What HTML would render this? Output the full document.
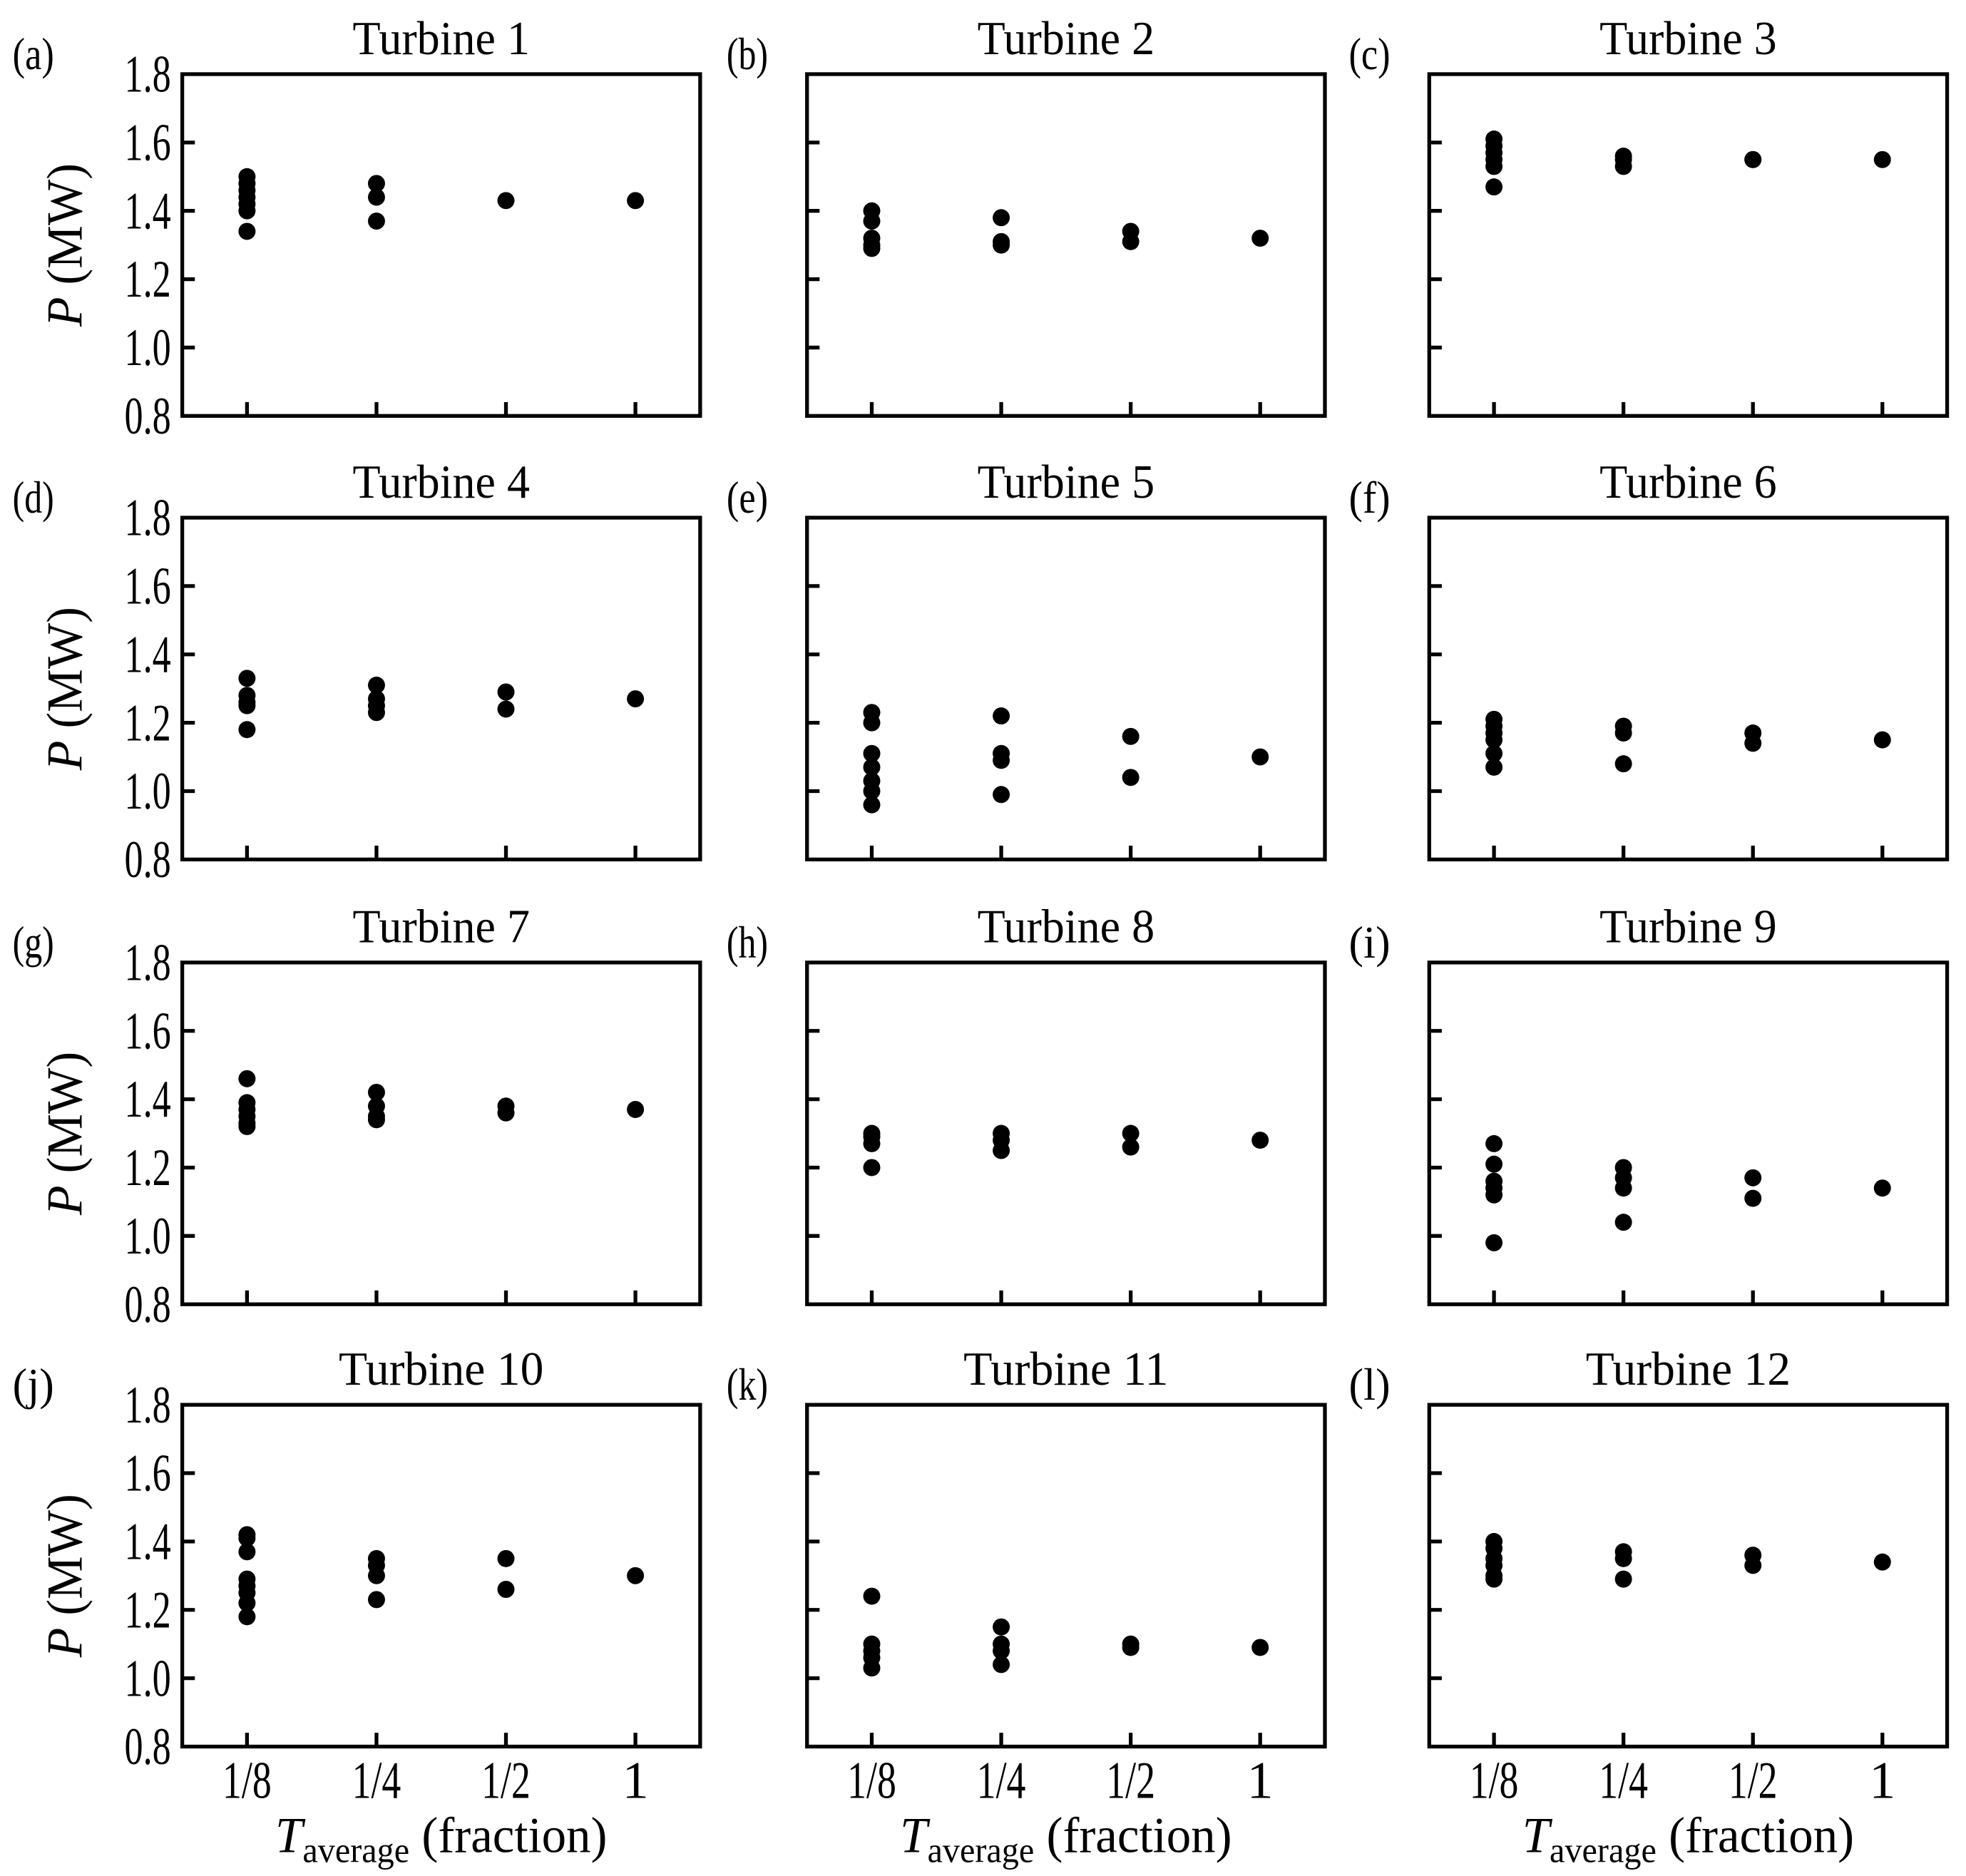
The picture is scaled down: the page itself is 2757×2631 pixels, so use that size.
<!DOCTYPE html>
<html><head><meta charset="utf-8"><style>html,body{margin:0;padding:0;background:#fff}svg{display:block}</style></head>
<body>
<svg id="fig" width="2757" height="2631" viewBox="0 0 1564 1493" preserveAspectRatio="none" xmlns="http://www.w3.org/2000/svg" font-family="'Liberation Serif', serif"></svg>
<script>
const categories = ["1/8","1/4","1/2","1"];
const yTicks = [0.8,1.0,1.2,1.4,1.6,1.8];
const yTickLabels = ["0.8","1.0","1.2","1.4","1.6","1.8"];
const titles = ["Turbine 1","Turbine 2","Turbine 3","Turbine 4","Turbine 5","Turbine 6","Turbine 7","Turbine 8","Turbine 9","Turbine 10","Turbine 11","Turbine 12"];
const letters = ["(a)","(b)","(c)","(d)","(e)","(f)","(g)","(h)","(i)","(j)","(k)","(l)"];
const t1 = [[1.50,1.48,1.46,1.44,1.42,1.40,1.34],[1.48,1.44,1.37],[1.43],[1.43]];
const t2 = [[1.40,1.37,1.32,1.30,1.29],[1.38,1.31,1.30],[1.34,1.31],[1.32]];
const t3 = [[1.61,1.59,1.57,1.55,1.53,1.47],[1.56,1.55,1.53],[1.55,1.55],[1.55]];
const t4 = [[1.33,1.28,1.26,1.25,1.18],[1.31,1.27,1.25,1.23],[1.29,1.24],[1.27]];
const t5 = [[1.23,1.20,1.11,1.07,1.03,1.00,0.96],[1.22,1.11,1.09,0.99],[1.16,1.04],[1.10]];
const t6 = [[1.21,1.19,1.17,1.15,1.11,1.07],[1.19,1.17,1.08],[1.17,1.14],[1.15]];
const t7 = [[1.46,1.39,1.37,1.35,1.33,1.32],[1.42,1.38,1.35,1.34],[1.38,1.36],[1.37]];
const t8 = [[1.30,1.29,1.27,1.20],[1.30,1.28,1.25],[1.30,1.26],[1.28]];
const t9 = [[1.27,1.21,1.16,1.14,1.12,0.98],[1.20,1.17,1.14,1.04],[1.17,1.11],[1.14]];
const t10 = [[1.42,1.41,1.37,1.29,1.27,1.25,1.22,1.18],[1.35,1.33,1.30,1.23],[1.35,1.26],[1.30]];
const t11 = [[1.24,1.10,1.08,1.06,1.03],[1.15,1.10,1.08,1.04],[1.10,1.09],[1.09]];
const t12 = [[1.40,1.38,1.35,1.33,1.30,1.29],[1.37,1.35,1.29],[1.36,1.33],[1.34]];
const series = [t1,t2,t3,t4,t5,t6,t7,t8,t9,t10,t11,t12];

const NS = "http://www.w3.org/2000/svg";
const svg = document.getElementById("fig");
function mk(tag, attrs, parent){const e=document.createElementNS(NS,tag);for(const k in attrs)e.setAttribute(k,attrs[k]);(parent||svg).appendChild(e);return e;}
const colX = [145,642,1137], rowY = [59,412,766,1118], W = 412, H = 272;
const letterX = [10,578,1073];
const yMin = 0.8, yMax = 1.8;
for (let p = 0; p < 12; p++) {
  const c = p % 3, r = Math.floor(p / 3);
  const x0 = colX[c], y0 = rowY[r];
  const g = mk("g", {});
  
  
  const yS = v => y0 + H - (v - yMin) / (yMax - yMin) * H;
  const xS = i => x0 + (i + 0.5) / categories.length * W;
  const frame = mk("rect", {x:x0,y:y0,width:W,height:H,fill:"none",stroke:"#000","stroke-width":3}, g);
  
  
  yTicks.forEach((v,i) => {
    if (i > 0 && i < yTicks.length-1) {
      const t = mk("line", {x1:x0,x2:x0+10,y1:yS(v),y2:yS(v),stroke:"#000","stroke-width":3}, g);
      
      
    }
    if (c === 0) {
      const lab = mk("text", {x:x0-9,y:yS(v)+14,"font-size":42,"text-anchor":"end",textLength:37,lengthAdjust:"spacingAndGlyphs"}, g);
      lab.textContent = yTickLabels[i];
      
      
    }
  });
  categories.forEach((cat,i) => {
    const t = mk("line", {x1:xS(i),x2:xS(i),y1:y0+H,y2:y0+H-11,stroke:"#000","stroke-width":3}, g);
    
    
    if (r === 3) {
      const lab = mk("text", {x:xS(i),y:y0+H+41,"font-size":42,"text-anchor":"middle"}, g);
      if (cat.length>1){lab.setAttribute("textLength",39);lab.setAttribute("lengthAdjust","spacingAndGlyphs");}
      lab.textContent = cat;
      
      
    }
    series[p][i].forEach(v => {
      const d = mk("circle", {cx:xS(i),cy:yS(v),r:6.8,fill:"#000"}, g);
      
      
    });
  });
  const ti = mk("text", {x:x0+W/2,y:y0-16,"font-size":38,"text-anchor":"middle",textLength:titles[p].length>9?163:141,lengthAdjust:"spacingAndGlyphs"}, g);
  ti.textContent = titles[p];
  
  
  const le = mk("text", {x:letterX[c],y:y0-4,"font-size":36,textLength:33,lengthAdjust:"spacingAndGlyphs"}, g);
  le.textContent = letters[p];
  
  
  if (c === 0) {
    const yt = mk("text", {x:0,y:0,"font-size":40,"text-anchor":"middle",transform:`translate(${x0-80},${y0+H/2}) rotate(-90)`,textLength:130,lengthAdjust:"spacingAndGlyphs"}, g);
    yt.innerHTML = '<tspan font-style="italic">P</tspan> (MW)';
    
    
  }
  if (r === 3) {
    const xt = mk("text", {x:x0+W/2,y:y0+H+84,"font-size":40,"text-anchor":"middle",textLength:264,lengthAdjust:"spacingAndGlyphs"}, g);
    xt.innerHTML = '<tspan font-style="italic">T</tspan><tspan font-size="28" dy="8">average</tspan><tspan dy="-8"> (fraction)</tspan>';
    
    
  }
}
</script>
</body></html>
